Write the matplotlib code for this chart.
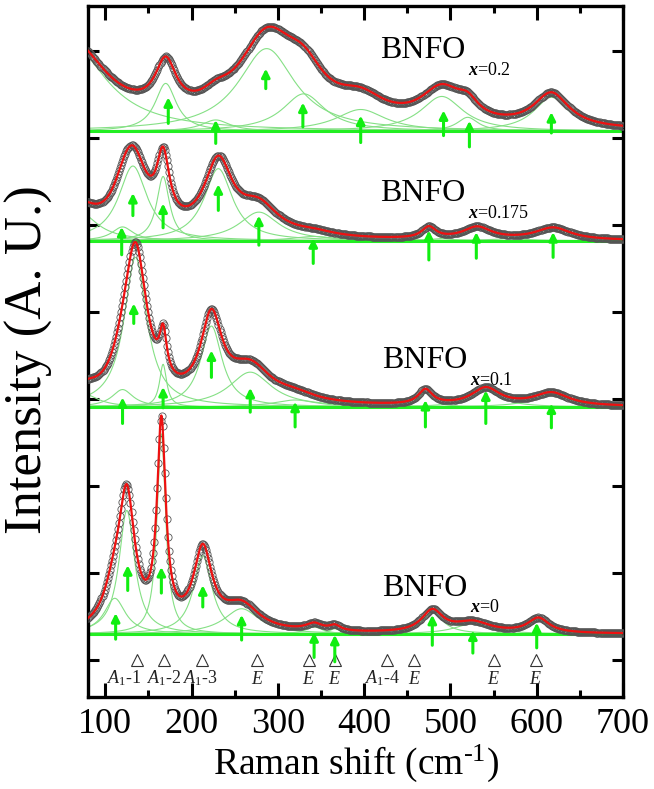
import numpy as np
import matplotlib.pyplot as plt
from matplotlib.ticker import MultipleLocator

plt.rcParams['font.family'] = ['Liberation Serif', 'DejaVu Serif']
plt.rcParams['mathtext.fontset'] = 'custom'
plt.rcParams['mathtext.rm'] = 'Liberation Serif'
plt.rcParams['mathtext.it'] = 'Liberation Serif:italic'
plt.rcParams['mathtext.bf'] = 'Liberation Serif:bold:italic'

# composition labels and vertical offsets of each spectrum (top to bottom)
comps = ['0.2', '0.175', '0.1', '0']
baselines = [6.08, 4.82, 2.91, 0.30]

# lorentzian components: centre (cm-1), height, half width
centers = [
    [60, 170, 228, 287, 330, 396, 490, 520, 617],
    [70, 120, 132, 167, 231, 278, 342, 475, 531, 619],
    [75, 120, 135, 167, 223, 268, 320, 471, 541, 617],
    [111, 125, 165, 213, 258, 342, 366, 479, 526, 602],
]
heights = [
    [1.00, 0.55, 0.13, 0.95, 0.43, 0.25, 0.40, 0.16, 0.39],
    [0.33, 0.16, 0.86, 0.74, 0.83, 0.33, 0.05, 0.13, 0.14, 0.14],
    [0.15, 0.20, 1.72, 0.49, 0.93, 0.40, 0.08, 0.17, 0.20, 0.15],
    [0.41, 1.42, 2.30, 0.90, 0.29, 0.08, 0.06, 0.25, 0.12, 0.17],
]
widths = [
    [50, 15, 20, 40, 30, 35, 30, 15, 25],
    [25, 15, 20, 9, 20, 28, 30, 10, 20, 25],
    [20, 15, 16, 5, 15, 30, 30, 10, 20, 25],
    [15, 11, 6, 13, 25, 12, 8, 15, 25, 15],
]

# green arrows: position, head, tail
arrow_x = [
    [173, 228, 286, 329, 396, 492, 522, 617],
    [119, 132, 167, 231, 278, 341, 475, 530, 619],
    [120, 133, 167, 223, 268, 320, 471, 541, 617],
    [112, 126, 165, 213, 258, 342, 366, 479, 526, 600],
]
arrow_head = [
    [6.47, 6.21, 6.80, 6.41, 6.26, 6.32, 6.20, 6.30],
    [4.98, 5.37, 5.25, 5.47, 5.11, 4.85, 4.94, 4.92, 4.92],
    [3.02, 4.10, 3.14, 3.56, 3.13, 2.97, 2.99, 3.10, 2.95],
    [0.54, 1.09, 1.07, 0.86, 0.52, 0.32, 0.29, 0.52, 0.34, 0.43],
]
arrow_tail = [
    [6.17, 5.94, 6.57, 6.13, 5.95, 6.03, 5.90, 6.06],
    [4.66, 5.11, 4.97, 5.17, 4.77, 4.56, 4.60, 4.62, 4.63],
    [2.72, 3.87, 2.90, 3.25, 2.85, 2.68, 2.68, 2.72, 2.67],
    [0.24, 0.80, 0.77, 0.61, 0.23, 0.03, -0.02, 0.17, 0.08, 0.14],
]

# phonon modes marked at the bottom
mode_pos = [137, 168, 212, 276, 336, 366, 427, 458, 550, 599]
mode_text = [r'$\mathit{A}_{1}$-1', r'$\mathit{A}_{1}$-2', r'$\mathit{A}_{1}$-3', r'$\mathit{E}$',
             r'$\mathit{E}$', r'$\mathit{E}$', r'$\mathit{A}_{1}$-4', r'$\mathit{E}$',
             r'$\mathit{E}$', r'$\mathit{E}$']
mode_label_x = [122, 168, 210, 276, 336, 366, 422, 458, 550, 599]

x = np.arange(80, 701, 0.5)
xs = np.arange(80, 701, 1.2)


def lor(xx, c, h, w):
    return h / (1 + ((xx - c) / w) ** 2)


fig = plt.figure(figsize=(6.54, 7.89), dpi=100)
ax = fig.add_axes([0.1346, 0.1166, 0.818, 0.8758])

green = '#22ee22'
for i in range(4):
    b = baselines[i]
    total = np.full_like(x, b)
    total_s = np.full_like(xs, b)
    for c, h, w in zip(centers[i], heights[i], widths[i]):
        ax.plot(x, b + lor(x, c, h, w), color='#85e085', lw=0.8, zorder=2)
        total += lor(x, c, h, w)
        total_s += lor(xs, c, h, w)
    ax.axhline(b, color=green, lw=2.2, zorder=2)
    ax.plot(xs, total_s, 'o', ms=5.2, mfc='none', mec='#555555', mew=0.6, zorder=3)
    ax.plot(x, total, color='#ee1111', lw=1.6, zorder=4)
    for ax_x, hd, tl in zip(arrow_x[i], arrow_head[i], arrow_tail[i]):
        ax.annotate('', xy=(ax_x, hd), xytext=(ax_x, tl),
                    arrowprops=dict(arrowstyle='-|>', color='#11ee11', lw=2.2,
                                    mutation_scale=12, shrinkA=0, shrinkB=0),
                    zorder=5)

label_pos = [(418, 6.92), (418, 5.28), (421, 3.36), (421, 0.74)]
for (lx, ly), cval in zip(label_pos, comps):
    t = ax.text(lx, ly, 'BNFO', fontsize=23, va='baseline', ha='left', zorder=6)
    ax.annotate(r'$\mathbf{x}$=' + cval, xy=(1, 0), xycoords=t, xytext=(2, -7),
                textcoords='offset points', fontsize=13, va='baseline', ha='left')

ax.plot(mode_pos, np.zeros(len(mode_pos)), '^', ms=9, mfc='none', mec='#333333', mew=0.8)
for lx, txt in zip(mode_label_x, mode_text):
    ax.text(lx, -0.27, txt, fontsize=13, ha='center', va='baseline', color='#222222')

ax.set_xticks(np.arange(100, 701, 100))
ax.xaxis.set_minor_locator(MultipleLocator(50))
ax.set_yticks(np.arange(0, 8, 1))
ax.set_yticklabels([])
ax.set_xlim(80, 700)
ax.set_ylim(-0.425, 7.52)
ax.tick_params(axis='both', which='both', direction='in', top=True, right=True)
ax.tick_params(axis='x', which='major', length=10, width=2.2, labelsize=26, pad=8)
ax.tick_params(axis='x', which='minor', length=5, width=2.2)
ax.tick_params(axis='y', which='major', length=8, width=2.2)
for s in ax.spines.values():
    s.set_linewidth(2.4)

ax.set_xlabel(r'Raman shift (cm$^{\text{-1}}$)', fontsize=27)
ax.xaxis.set_label_coords(0.5, -0.066)
ax.set_ylabel('Intensity (A. U.)', fontsize=38)
ax.yaxis.set_label_coords(-0.065, 0.488)

fig.savefig('out.png', dpi=100)
